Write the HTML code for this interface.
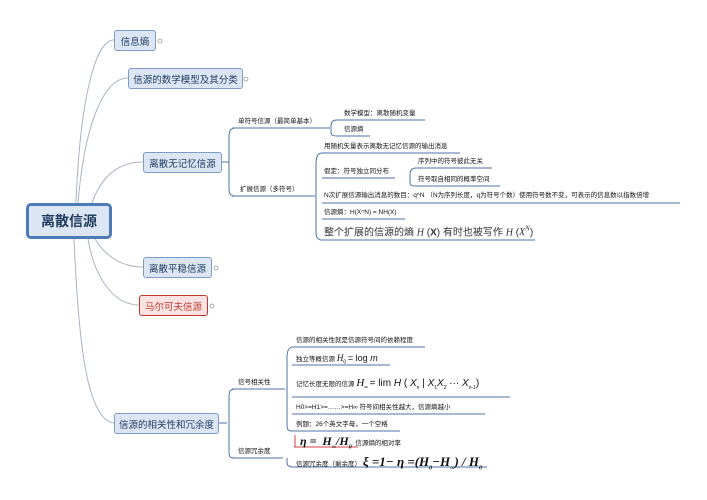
<!DOCTYPE html>
<html><head><meta charset="utf-8"><style>
body{margin:0;width:707px;height:500px;background:#fff;position:relative;overflow:hidden;font-family:"Liberation Sans","Noto Sans CJK SC",sans-serif;}
.b{position:absolute;box-sizing:border-box;background:#dbe5f3;border:1.5px solid #7d9cc6;border-radius:3px;color:#1f3a5f;font-size:9.5px;display:flex;align-items:center;justify-content:center;white-space:nowrap;}
.t{position:absolute;font-size:6.5px;color:#111;white-space:nowrap;line-height:1;}
.m{font-family:"Liberation Serif","Noto Serif CJK SC",serif;font-style:italic;}
svg{position:absolute;left:0;top:0;}
</style></head><body>
<svg width="707" height="500">
<g fill="none" stroke="#a9b4c2" stroke-width="1">
<path d="M76,203 C80,100 95,40 114,40"/>
<path d="M78,203 C85,120 105,78 128,78"/>
<path d="M92,203 C100,180 115,162 143,162"/>
<path d="M95,239 C105,255 120,267 143,267"/>
<path d="M88,239 C95,280 115,305 139,305"/>
<path d="M74,239 C78,330 85,420 114,423"/>
</g>
<g fill="none" stroke="#4f73a6" stroke-width="1">
<line x1="222" y1="162" x2="229" y2="162"/>
<path d="M236,128 C229,128 229,132 229,140 L229,188 C229,194 230,196 236,196"/>
<line x1="232" y1="128" x2="330" y2="128"/>
<line x1="232" y1="196" x2="315" y2="196"/>
<path d="M337,120 C332,120 331,123 331,126 L331,132 C331,135 332,136 337,136"/>
<line x1="337" y1="120" x2="425" y2="120"/>
<line x1="337" y1="136" x2="370" y2="136"/>
<path d="M322,153 C317,153 316,158 316,165 L316,232 C316,238 318,240 322,240"/>
<line x1="322" y1="153" x2="460" y2="153"/>
<line x1="322" y1="178" x2="395" y2="178"/>
<line x1="322" y1="203" x2="680" y2="203"/>
<line x1="322" y1="219" x2="405" y2="219"/>
<line x1="322" y1="240" x2="535" y2="240"/>
<path d="M416,168 C411,168 410,172 410,175 L410,182 C410,185 411,186 416,186"/>
<line x1="416" y1="168" x2="492" y2="168"/>
<line x1="416" y1="186" x2="500" y2="186"/>
<line x1="219" y1="423" x2="227" y2="423"/>
<path d="M236,389 C229,389 229,392 229,398 L229,452 C229,457 230,458 236,458"/>
<line x1="232" y1="389" x2="285" y2="389"/>
<line x1="232" y1="458" x2="283" y2="458"/>
<path d="M293,347 C288,347 287,352 287,358 L287,425 C287,430 288,431 293,431"/>
<line x1="292" y1="347" x2="425" y2="347"/>
<line x1="292" y1="365" x2="390" y2="365"/>
<line x1="292" y1="397" x2="510" y2="397"/>
<line x1="292" y1="414" x2="485" y2="414"/>
<line x1="292" y1="431" x2="400" y2="431"/>
<path d="M293,467 C288,467 287,465 287,462 L287,458"/>
<line x1="292" y1="467" x2="487" y2="467"/>
</g>
<line x1="294" y1="447" x2="358" y2="447" stroke="#d04040" stroke-width="1"/>
<line x1="295" y1="435" x2="295" y2="447" stroke="#d04040" stroke-width="1"/>
<g fill="#fff" stroke="#999" stroke-width="0.8">
<circle cx="160" cy="41" r="2"/><circle cx="246" cy="79" r="2"/>
<circle cx="216" cy="268" r="2"/><circle cx="212" cy="306" r="2"/>
</g>
</svg>
<div class="b" style="left:26px;top:203px;width:86px;height:36px;font-size:14px;font-weight:bold;border:3px solid #4f7ab8;border-radius:5px;">离散信源</div>
<div class="b" style="left:114px;top:30px;width:42px;height:21px;">信息熵</div>
<div class="b" style="left:128px;top:68px;width:115px;height:21px;">信源的数学模型及其分类</div>
<div class="b" style="left:143px;top:152px;width:79px;height:21px;">离散无记忆信源</div>
<div class="b" style="left:143px;top:257px;width:69px;height:21px;">离散平稳信源</div>
<div class="b" style="left:139px;top:295px;width:69px;height:21px;background:#fbe3e3;border-color:#c0392b;color:#c0392b;">马尔可夫信源</div>
<div class="b" style="left:114px;top:413px;width:105px;height:21px;">信源的相关性和冗余度</div>

<div class="t" style="left:238px;top:119px;">单符号信源（最简单基本）</div>
<div class="t" style="left:240px;top:187px;">扩展信源（多符号）</div>
<div class="t" style="left:344px;top:111px;">数学模型：离散随机变量</div>
<div class="t" style="left:344px;top:127px;">信源熵</div>
<div class="t" style="left:324px;top:144px;">用随机矢量表示离散无记忆信源的输出消息</div>
<div class="t" style="left:324px;top:169px;">假定：符号独立同分布</div>
<div class="t" style="left:418px;top:159px;">序列中的符号彼此无关</div>
<div class="t" style="left:418px;top:177px;">符号取自相同的概率空间</div>
<div class="t" style="left:324px;top:193px;">N次扩展信源输出消息的数目：q^N （N为序列长度，q为符号个数）使用符号数不变，可表示的信息数以指数倍增</div>
<div class="t" style="left:324px;top:210px;">信源熵：H(X^N) = NH(X)</div>
<div class="t" style="left:324px;top:226px;font-size:10px;color:#333;">整个扩展的信源的熵 <span class="m">H</span> (<b>X</b>) 有时也被写作 <span class="m">H</span> (<span class="m">X<sup style="font-size:7px">N</sup></span>)</div>

<div class="t" style="left:238px;top:380px;">信号相关性</div>
<div class="t" style="left:238px;top:449px;">信源冗余度</div>
<div class="t" style="left:296px;top:338px;">信源的相关性就是信源符号间的依赖程度</div>
<div class="t" style="left:296px;top:354px;">独立等概信源 <span class="m" style="font-size:9px">H</span><sub style="font-size:5px">0</sub> <span style="font-size:9px">= log <i>m</i></span></div>
<div class="t" style="left:296px;top:378px;">记忆长度无限的信源 <span class="m" style="font-size:11px">H</span><sub style="font-size:5px">∞</sub> <span style="font-size:10px">= lim <i>H</i> ( <i>X</i><sub style="font-size:5px">n</sub> | <i>X</i><sub style="font-size:5px">1</sub><i>X</i><sub style="font-size:5px">2</sub> ··· <i>X</i><sub style="font-size:5px">n-1</sub>)</span></div>
<div class="t" style="left:296px;top:405px;">H0>=H1>=……>=H∞ 符号间相关性越大，信源熵越小</div>
<div class="t" style="left:296px;top:422px;">例题：26个英文字母，一个空格</div>
<div class="t" style="left:300px;top:435px;"><span class="m" style="font-size:12px;font-weight:bold">η = &nbsp;H<sub style="font-size:6px">∞</sub>/H<sub style="font-size:6px">0</sub></span> &nbsp;信源熵的相对率</div>
<div class="t" style="left:296px;top:455px;">信源冗余度（剩余度） <span class="m" style="font-size:13px;font-weight:bold">ξ =1− η =(H<sub style="font-size:6px">0</sub>−H<sub style="font-size:6px">∞</sub>) / H<sub style="font-size:6px">0</sub></span></div>
</body></html>
